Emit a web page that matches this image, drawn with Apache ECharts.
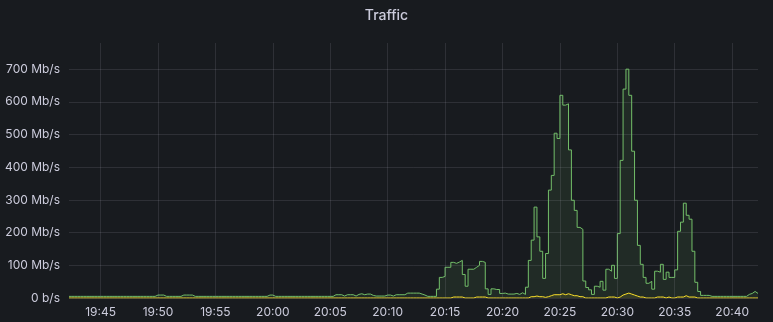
<!DOCTYPE html>
<html>
<head>
<meta charset="utf-8">
<script src="https://cdn.jsdelivr.net/npm/echarts@6/dist/echarts.min.js"></script>
<style>
html,body{margin:0;padding:0;background:#181b1f;}
#c{width:773px;height:322px;}
</style>
</head>
<body>
<div id="c"></div>
<script>
// 15-second samples starting 19:42:15, values in Mb/s
const startTime = [19, 42, 15];
const stepSeconds = 15;
const yTicks = [0, 100, 200, 300, 400, 500, 600, 700];
const xTickLabels = ['19:45','19:50','19:55','20:00','20:05','20:10','20:15','20:20','20:25','20:30','20:35','20:40'];
const seriesNames = ['In', 'Out'];

const greenValues = [
  5,5,5,5,5,5,5,5,5,5, 5,5,5,5,5,5,5,5,5,5, 5,5,5,5,5,5,5,5,5,5,   // 0-29
  9,9,9,5,5,5,5,5,5,9, 9,9,9,5,5,5,5,5,5,5,                        // 30-49
  5,5,5,5,5,5,5,5,5,5, 5,5,5,5,5,5,5,5,5,9,                        // 50-69
  9,5,5,5,5,5,5,5,5,5, 5,5,5,5,5,5,5,5,5,5,                        // 70-89
  5,5,10,10,10,6,10,10,10,6,                                       // 90-99
  11,13,10,12,12,8,6,6,6,6,                                        // 100-109
  9,9,6,10,10,10,10,15,15,15,                                      // 110-119
  15,15,12,9,5,5,5,5,27,63,                                        // 120-129
  66,94,94,109,106,110,115,72,36,88,                               // 130-139
  88,94,100,112,109,28,11,28,26,26,                                // 140-149
  14,15,12,12,12,14,11,16,11,33,                                   // 150-159
  115,177,278,187,143,60,136,330,375,504,                          // 160-169
  488,620,590,594,453,299,268,216,210,52,                          // 170-179
  32,25,11,36,33,51,24,88,82,100,                                  // 180-189
  60,197,421,639,700,620,449,299,161,103,                          // 190-199
  63,45,51,27,82,79,103,57,79,63,                                  // 200-209
  63,86,204,232,290,253,241,143,48,20,                             // 210-219
  8,8,8,5,5,5,5,5,5,5,                                             // 220-229
  5,5,5,5,5,5,11,14,20,14                                          // 230-239
];

const yellowValues = [
  0,0,0,0,0,0,0,0,0,0, 0,0,0,0,0,0,0,0,0,0, 0,0,0,0,0,0,0,0,0,0,   // 0-29
  0,0,0,0,0,0,0,0,0,0, 0,0,0,0,0,0,0,0,0,0,                        // 30-49
  0,0,0,0,0,0,0,0,0,0, 0,0,0,0,0,0,0,0,0,0,                        // 50-69
  0,0,0,0,0,0,0,0,0,0, 0,0,0,0,0,0,0,0,0,0,                        // 70-89
  0,0,0,0,0,0,0,0,0,0, 0,0,0,0,0,0,0,0,0,0,                        // 90-109
  0,0,0,0,0,0,0,0,0,0, 0,0,0,0,0,0,0,0,0,0,                        // 110-129
  0,0,0,3,3,3,3,0,0,0,                                             // 130-139
  0,3,3,3,3,0,0,0,0,0,                                             // 140-149
  0,0,0,0,0,0,0,0,0,0,                                             // 150-159
  4,4,6,4,4,2,4,7,10,10,                                           // 160-169
  10,13,10,13,10,7,7,4,4,0,                                        // 170-179
  0,0,0,0,0,0,0,3,3,3,                                             // 180-189
  0,3,9,12,15,12,9,6,3,3,                                          // 190-199
  0,0,0,0,3,3,3,0,3,0,                                             // 200-209
  0,3,3,3,7,3,3,3,0,0,                                             // 210-219
  0,0,0,0,0,0,0,0,0,0,                                             // 220-229
  0,0,0,0,0,0,0,0,0,0                                              // 230-239
];

const t0 = new Date(2024, 0, 1, startTime[0], startTime[1], startTime[2]).getTime();
function toPairs(vals) {
  const out = vals.map((v, i) => [t0 + i * stepSeconds * 1000, v]);
  out.push([t0 + vals.length * stepSeconds * 1000, vals[vals.length - 1]]);
  return out;
}
const tEnd = t0 + greenValues.length * stepSeconds * 1000;
function labelToTime(s) {
  const p = s.split(':');
  return new Date(2024, 0, 1, +p[0], +p[1], 0).getTime();
}
const xTickValues = xTickLabels.map(labelToTime);

function pad(n) { return (n < 10 ? '0' : '') + n; }

const chart = echarts.init(document.getElementById('c'), null, {renderer: 'canvas'});
chart.setOption({
  backgroundColor: '#181b1f',
  animation: false,
  title: {
    text: 'Traffic',
    left: 'center',
    top: 4,
    textStyle: {color: '#ccccdc', fontSize: 14, fontWeight: 500, fontFamily: 'Inter'}
  },
  grid: {left: 69, right: 15, top: 43, bottom: 24, containLabel: false},
  xAxis: {
    type: 'value',
    min: t0,
    max: tEnd,
    axisLine: {show: false},
    axisTick: {show: false, customValues: xTickValues},
    splitLine: {show: false},
    axisLabel: {
      color: '#ccccdc',
      fontSize: 12,
      fontFamily: 'Inter',
      margin: 8,
      customValues: xTickValues,
      formatter: function (v) {
        const d = new Date(v);
        return pad(d.getHours()) + ':' + pad(d.getMinutes());
      }
    }
  },
  yAxis: {
    type: 'value',
    min: yTicks[0],
    max: 780,
    interval: 100,
    axisLine: {show: false},
    axisTick: {show: false},
    splitLine: {show: true, showMaxLine: false, lineStyle: {color: 'rgba(204,204,220,0.12)', width: 1}},
    axisLabel: {
      color: '#ccccdc',
      fontSize: 12,
      fontFamily: 'Inter',
      margin: 9,
      showMaxLabel: false,
      formatter: function (v) {
        if (yTicks.indexOf(v) < 0) return '';
        return v === 0 ? '0 b/s' : v + ' Mb/s';
      }
    }
  },
  series: [
    {
      name: seriesNames[0],
      type: 'line',
      step: 'end',
      showSymbol: false,
      data: toPairs(greenValues),
      lineStyle: {color: '#73BF69', width: 1},
      itemStyle: {color: '#73BF69'},
      areaStyle: {color: '#73BF69', opacity: 0.1},
      markLine: {
        silent: true,
        symbol: 'none',
        label: {show: false},
        lineStyle: {color: 'rgba(204,204,220,0.12)', width: 1, type: 'solid'},
        data: xTickValues.map(v => ({xAxis: v}))
      }
    },
    {
      name: seriesNames[1],
      type: 'line',
      step: 'end',
      showSymbol: false,
      data: toPairs(yellowValues),
      lineStyle: {color: '#FADE2A', width: 1},
      itemStyle: {color: '#FADE2A'},
      areaStyle: {color: '#FADE2A', opacity: 0.1}
    }
  ]
});
</script>
</body>
</html>
